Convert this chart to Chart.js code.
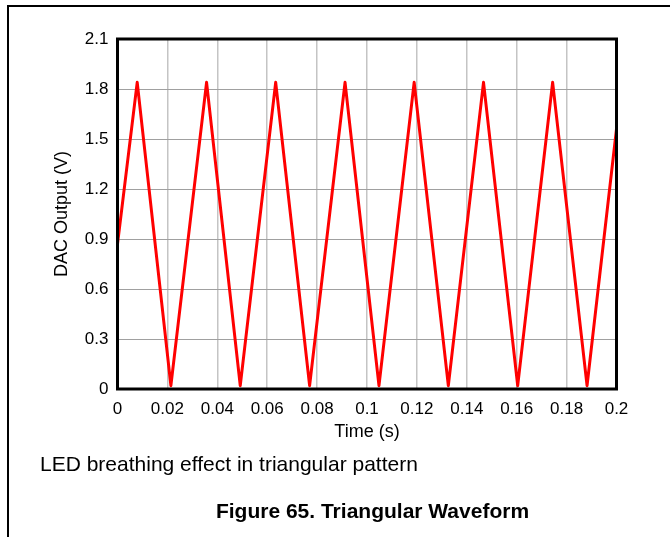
<!DOCTYPE html>
<html>
<head>
<meta charset="utf-8">
<script src="https://cdn.jsdelivr.net/npm/chart.js@4.4.0/dist/chart.umd.min.js"></script>
<style>
    html, body { margin: 0; padding: 0; background: #fff; }
    body { width: 670px; height: 537px; position: relative; overflow: hidden; font-family: "Liberation Sans", Arial, sans-serif; }
    #frame { position: absolute; left: 7px; top: 5px; width: 680px; height: 560px; border-left: 2px solid #000; border-top: 2px solid #000; }
    #chartBox { position: absolute; left: 0; top: 0; width: 670px; height: 537px; }
    #note { position: absolute; left: 40px; top: 452px; font-size: 21px; line-height: 24px; color: #000; }
    #caption { position: absolute; left: 0; width: 745px; top: 499px; text-align: center; font-size: 21px; line-height: 24px; font-weight: bold; color: #000; }
</style>
</head>
<body>
<div id="frame"></div>
<div id="chartBox"><canvas id="chartCanvas" width="670" height="537"></canvas></div>
<div id="note">LED breathing effect in triangular pattern</div>
<div id="caption">Figure 65. Triangular Waveform</div>

<script>
// time (s) of each corner of the triangle wave
const times = [0, 0.0079, 0.0214, 0.0357, 0.0492, 0.0634, 0.0770, 0.0912,
               0.1048, 0.1189, 0.1326, 0.1467, 0.1604, 0.1744, 0.1882, 0.2];
// DAC output (V) at each corner
const volts = [0.87, 1.84, 0.02, 1.84, 0.02, 1.84, 0.02, 1.84,
               0.02, 1.84, 0.02, 1.84, 0.02, 1.84, 0.02, 1.56];

const xTickLabels = ["0", "0.02", "0.04", "0.06", "0.08", "0.1", "0.12", "0.14", "0.16", "0.18", "0.2"];
const yTickLabels = ["0", "0.3", "0.6", "0.9", "1.2", "1.5", "1.8", "2.1"];

const FONT = "'Liberation Sans', Arial, sans-serif";

/* ----------------------------------------
   PLOT FRAME (black box round chart area)
---------------------------------------- */
const frameBox = {
    id: "frameBox",
    afterDatasetsDraw(chart) {
        const { ctx, chartArea: a } = chart;
        ctx.save();
        ctx.strokeStyle = "#000";
        ctx.lineWidth = 3;
        ctx.strokeRect(a.left, a.top, a.right - a.left, a.bottom - a.top);
        ctx.restore();
    }
};

const ctx = document.getElementById("chartCanvas").getContext("2d");

new Chart(ctx, {
    type: "line",
    data: {
        datasets: [{
            label: "DAC Output",
            data: times.map((t, i) => ({ x: t, y: volts[i] })),
            borderColor: "#ff0000",
            borderWidth: 3,
            borderJoinStyle: "round",
            pointRadius: 0,
            tension: 0,
            fill: false
        }]
    },
    options: {
        responsive: false,
        animation: false,
        layout: { padding: { top: 39, right: 53.5, bottom: 88, left: 0 } },
        plugins: {
            legend: { display: false },
            tooltip: { enabled: false }
        },
        scales: {
            x: {
                type: "linear",
                min: 0,
                max: 0.2,
                afterFit: (scale) => { scale.height = 60; },
                afterBuildTicks: (scale) => {
                    scale.ticks = xTickLabels.map(v => ({ value: parseFloat(v) }));
                },
                grid: { color: "#c4c4c4", lineWidth: 1.5, drawTicks: false },
                border: { display: false },
                ticks: {
                    color: "#000",
                    padding: 10,
                    maxRotation: 0,
                    autoSkip: false,
                    font: { family: FONT, size: 17 },
                    callback: (value, i) => xTickLabels[i]
                },
                title: {
                    display: true,
                    text: "Time (s)",
                    color: "#000",
                    font: { family: FONT, size: 18 },
                    padding: { top: 0, bottom: 6 }
                }
            },
            y: {
                min: 0,
                max: 2.1,
                afterFit: (scale) => { scale.width = 117.5; },
                afterBuildTicks: (scale) => {
                    scale.ticks = yTickLabels.map(v => ({ value: parseFloat(v) }));
                },
                grid: { color: "#a0a0a0", lineWidth: 1, drawTicks: false },
                border: { display: false },
                ticks: {
                    color: "#000",
                    padding: 9,
                    font: { family: FONT, size: 17 },
                    callback: (value, i) => yTickLabels[i]
                },
                title: {
                    display: true,
                    text: "DAC Output (V)",
                    color: "#000",
                    font: { family: FONT, size: 18 },
                    padding: { top: 51, bottom: 0 }
                }
            }
        }
    },
    plugins: [frameBox]
});
</script>
</body>
</html>
